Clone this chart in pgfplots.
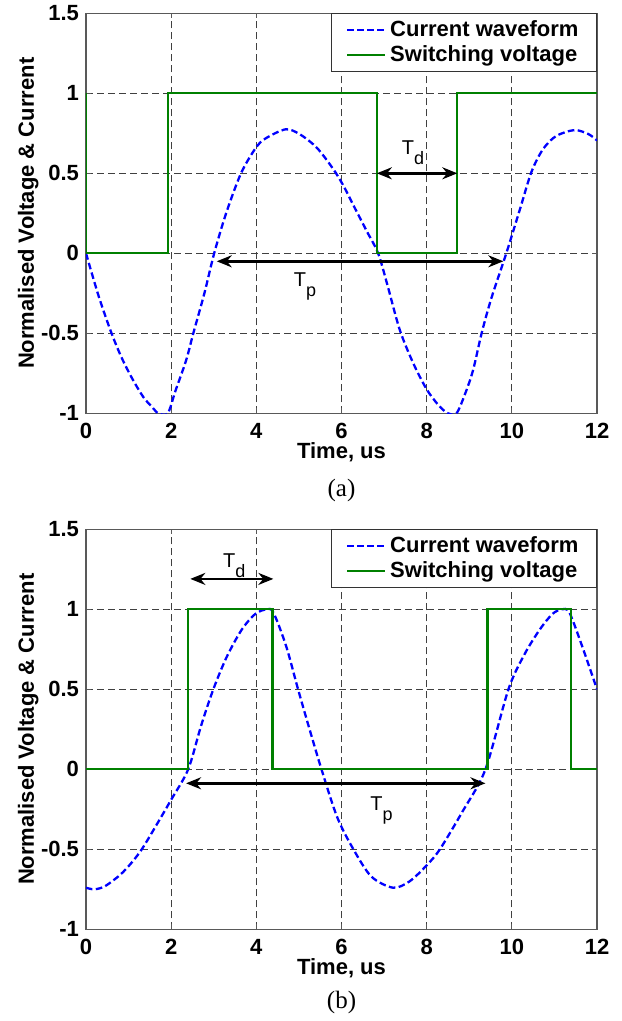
\documentclass[border=0pt]{standalone}
\usepackage{fontspec}
\setmainfont{Liberation Sans}
\newfontfamily\seriffont{Liberation Serif}
\usepackage{pgfplots}
\pgfplotsset{compat=1.18}
\usetikzlibrary{arrows.meta}
\definecolor{mblue}{RGB}{0,0,255}
\definecolor{mgreen}{RGB}{0,128,0}

\pgfplotsset{
  wave/.style={
    scale only axis, width=255.5pt, height=200pt,
    xmin=0, xmax=12, ymin=-1, ymax=1.5,
    clip mode=individual,
    xtick={0,2,4,6,8,10,12}, xticklabels={0,2,4,6,8,10,12},
    ytick={-1,-0.5,0,0.5,1,1.5}, yticklabels={-1,-0.5,0,0.5,1,1.5},
    grid=major,
    major grid style={black!75, line width=0.4pt, dash pattern=on 3.5pt off 2pt},
    axis line style={black!65, line width=0.7pt},
    tick style={black!65, line width=0.5pt},
    tick align=inside, major tick length=2.5pt,
    tick label style={font=\fontsize{11}{13}\selectfont\bfseries},
    xticklabel style={yshift=-1.5pt},
    label style={font=\fontsize{11}{13}\selectfont\bfseries},
    xlabel={Time, us},
    ylabel={Normalised Voltage \& Current},
    xlabel style={at={(axis description cs:0.5,-0.0975)}, anchor=center},
    ylabel style={at={(axis description cs:-0.113,0.5)}, anchor=center},
    legend style={at={(1,1)}, anchor=north east, draw=black!80, line width=0.5pt,
      font=\fontsize{11}{13}\selectfont\bfseries, inner xsep=7pt, inner ysep=1.5pt,
      row sep=-1pt},
    legend cell align=left,
    legend image code/.code={\draw[#1] (0pt,0pt) -- (19pt,0pt);},
    cur/.style={mblue, line width=1.15pt, dash pattern=on 3.3pt off 1.7pt, smooth},
    sw/.style={mgreen, line width=1.15pt},
  }
}
\tikzset{dar/.style={line width=1.2pt, {Stealth[length=7.5pt,width=6pt]}-{Stealth[length=7.5pt,width=6pt]}},
  tlab/.style={anchor=base west, inner sep=0pt}}
\newcommand{\Tsub}[1]{\fontsize{10}{12}\selectfont T\raisebox{-5pt}{\fontsize{9}{10}\selectfont #1}}

\begin{document}
\begin{tikzpicture}
\useasboundingbox (0,0) rectangle (310.5pt,-510.5pt);

% ---------------- (a) ----------------
\begin{axis}[wave, at={(43pt,-206.65pt)}, anchor=south west]
\addplot[cur] coordinates {
(0,0) (0.3,-0.27) (0.6,-0.5) (0.85,-0.66) (1.1,-0.79) (1.35,-0.9) (1.55,-0.96)
(1.7,-1) (1.92,-1) (2.1,-0.86) (2.35,-0.67) (2.52,-0.5) (2.78,-0.25) (3.01,0)
(3.29,0.25) (3.64,0.5) (3.99,0.66) (4.23,0.72) (4.69,0.775) (5.02,0.744)
(5.42,0.66) (5.81,0.525) (6.05,0.42) (6.28,0.3) (6.59,0.14) (6.86,0) (7.08,-0.2)
(7.37,-0.48) (7.69,-0.69) (8.0,-0.85) (8.28,-0.95) (8.5,-1) (8.7,-1) (8.9,-0.88)
(9.09,-0.73) (9.29,-0.5) (9.52,-0.28) (9.87,0) (10.19,0.275) (10.46,0.508)
(10.73,0.65) (11.04,0.733) (11.47,0.77) (11.8,0.745) (12,0.705)};
\addplot[sw] coordinates {
(0,1) (0,0) (1.92,0) (1.92,1) (6.83,1) (6.83,0) (8.72,0) (8.72,1) (12,1)};
\legend{Current waveform, Switching voltage}
\draw[dar] (axis cs:6.83,0.5) -- (axis cs:8.72,0.5);
\draw[dar] (axis cs:3.07,-0.05) -- (axis cs:9.80,-0.05);
\node[tlab] at (axis cs:7.41,0.619) {\Tsub{d}};
\node[tlab] at (axis cs:4.87,-0.208) {\Tsub{p}};
\node[font=\seriffont\fontsize{12.5}{14}\selectfont] at (axis description cs:0.5,-0.1925) {(a)};
\end{axis}

% ---------------- (b) ----------------
\begin{axis}[wave, at={(43pt,-464.65pt)}, anchor=south west]
\addplot[cur] coordinates {
(0,-0.74) (0.2,-0.75) (0.45,-0.73) (0.8,-0.66) (1.05,-0.59) (1.31,-0.5) (1.65,-0.35)
(2.0,-0.19) (2.4,0) (2.7,0.27) (2.99,0.5) (3.3,0.7) (3.65,0.87) (3.97,0.97)
(4.24,1.0) (4.4,0.98) (4.7,0.77) (4.98,0.5) (5.25,0.25) (5.53,0) (5.9,-0.3)
(6.28,-0.5) (6.7,-0.67) (7.21,-0.74) (7.6,-0.70) (8.0,-0.60) (8.31,-0.5)
(8.85,-0.26) (9.38,0) (9.92,0.5) (10.3,0.72) (10.66,0.875) (10.95,0.97)
(11.17,1.0) (11.35,0.98) (11.65,0.77) (12,0.5)};
\addplot[sw] coordinates {
(0,0) (2.40,0) (2.40,1) (4.38,1) (4.38,0) (9.43,0) (9.43,1) (11.39,1) (11.39,0) (12,0)};
\legend{Current waveform, Switching voltage}
\draw[dar] (axis cs:2.45,1.19) -- (axis cs:4.4,1.19);
\draw[dar] (axis cs:2.35,-0.0875) -- (axis cs:9.38,-0.0875);
\node[tlab] at (axis cs:3.21,1.26) {\Tsub{d}};
\node[tlab] at (axis cs:6.67,-0.26) {\Tsub{p}};
\node[font=\seriffont\fontsize{12.5}{14}\selectfont] at (axis description cs:0.5,-0.1825) {(b)};
\end{axis}
\end{tikzpicture}
\end{document}
